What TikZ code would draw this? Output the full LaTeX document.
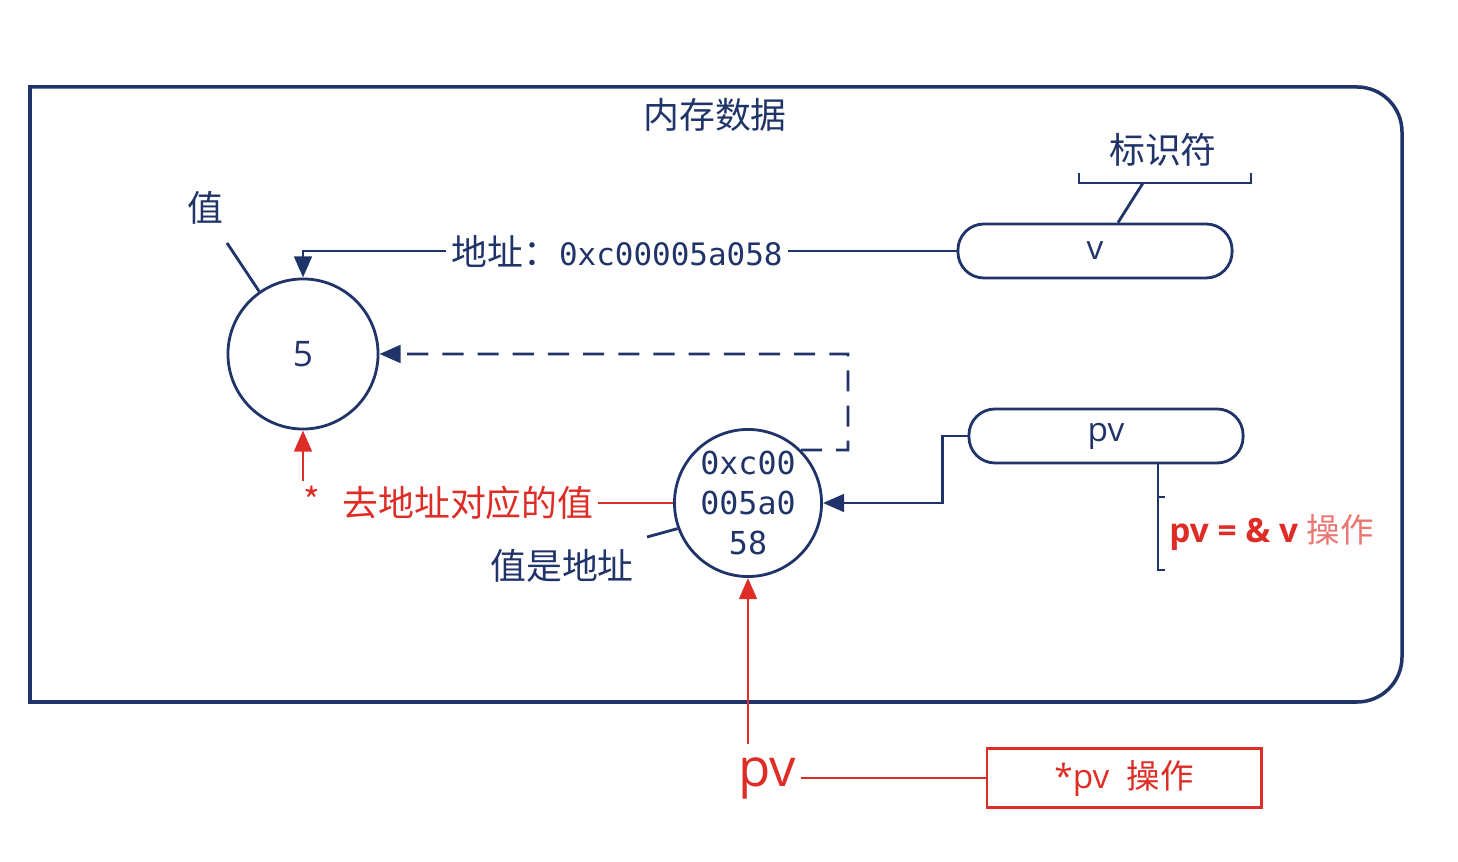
\documentclass[tikz,border=0pt]{standalone}
\usepackage{fontspec}
\setmainfont{Open Sans}
\newfontfamily\cjk{Noto Sans CJK SC}
\newfontfamily\hexfont{DejaVu Sans Mono}
\usetikzlibrary{arrows.meta,calc}
\definecolor{navy}{RGB}{32,52,105}
\definecolor{ptrred}{RGB}{222,45,38}
\colorlet{oplight}{ptrred!65!white}

\begin{document}
\begin{tikzpicture}[x=0.01cm, y=-0.01cm, line width=0.8pt,
    frame/.style={draw=navy, line width=1pt},
    var box/.style={draw=navy, rounded corners=0.26cm, minimum width=2.74cm, minimum height=0.54cm, font=\fontsize{9.5}{11}\selectfont\color{navy}},
    cell/.style={draw=navy, circle, inner sep=0, align=center},
    note/.style={font=\cjk\fontsize{10.2}{12}\selectfont\color{navy}},
    red note/.style={font=\cjk\fontsize{10.2}{12}\selectfont\color{ptrred}},
    conn/.style={draw=navy, -{Triangle[length=6pt,width=5pt]}},
    deref/.style={draw=ptrred, -{Triangle[length=6pt,width=5pt]}}
  ]
  \useasboundingbox (0,0) rectangle (1458,862);

  % memory frame
  \draw [frame] (716,87) [rounded corners=0.45cm] -- (1402,87) -- (1402,702) -- (716,702) [sharp corners] -- (30,702) -- (30,87) -- cycle;
  \node [note] (mem) at (715,115) {内存数据};

  % cells
  \node [cell, minimum size=1.5cm, font=\fontsize{10}{12}\selectfont\color{navy}] (c5) at (303,354) {5};
  \node [cell, minimum size=1.47cm, font=\hexfont\fontsize{9}{11.4}\selectfont\color{navy}] (ptr) at (748,503) {0xc00\\005a0\\58};

  % identifiers
  \node [var box] (vbox) at (1095,251) {v};
  \node [var box] (pvbox) at (1106,436) {pv};
  \node [note] (ident) at (1163,150) {标识符};
  \coordinate (brace) at (1143,183);
  \draw [navy] (1079,173) |- (1251,183) -- (1251,173);
  \draw [navy] (brace) -- ($(vbox.north)+(23,0)$);

  \node [note] (valnote) at (205,208) {值};
  \coordinate (valtick) at (227,243);
  \draw [navy] (valtick) -- (c5.125);

  \node [note] (addrnote) at (562,566) {值是地址};
  \coordinate (addrtick) at (647,537);
  \draw [navy] (addrtick) -- (ptr.200);

  % v -> 5
  \node [note, inner sep=1pt] (addr) at (617,251) {地址：\hexfont\fontsize{8.8}{12}\selectfont 0xc00005a058};
  \draw [navy] (vbox.west) -- (addr.east);
  \draw [conn] (addr.west) -| (c5.north);

  % pv -> ptr, ptr -> 5
  \draw [conn] (pvbox.west) -- ++(-25,0) |- (ptr.east);
  \coordinate (dc) at (848,450);
  \draw [conn, dash pattern=on 6pt off 4pt] (ptr.45) -- (dc) |- (c5.east);

  % pv = & v
  \coordinate (opt) at (1158,497);
  \coordinate (opb) at (1158,570);
  \draw [navy] (pvbox.south -| opt) -- (opb) -- ++(7,0);
  \draw [navy] (opt) -- ++(7,0);
  \node [anchor=west, inner sep=0, font=\fontsize{9.5}{11}\selectfont] (opnote) at (1168,532) {\bfseries\color{ptrred}pv = \& v {\cjk\mdseries\color{oplight}操作}};

  % dereference
  \node [red note, inner sep=1pt] (star) at (312,500) {*};
  \node [red note, inner sep=1pt] (derefnote) at (468,503) {去地址对应的值};
  \draw [deref] (c5.south |- star.north) -- (c5.south);
  \draw [ptrred] (derefnote.east) -- (ptr.west);

  \node [font=\fontsize{15}{18}\selectfont\color{ptrred}, inner xsep=1pt] (pvbig) at (767,778) {pv};
  \node [draw=ptrred, minimum width=2.74cm, minimum height=0.55cm, font=\fontsize{9.5}{11}\selectfont\color{ptrred}] (opbox) at (1124,778) {*pv\ \ {\cjk 操作}};
  \draw [deref] (ptr.south |- pvbig.north) -- (ptr.south);
  \draw [ptrred] (pvbig.east) -- (opbox.west);
\end{tikzpicture}
\end{document}
